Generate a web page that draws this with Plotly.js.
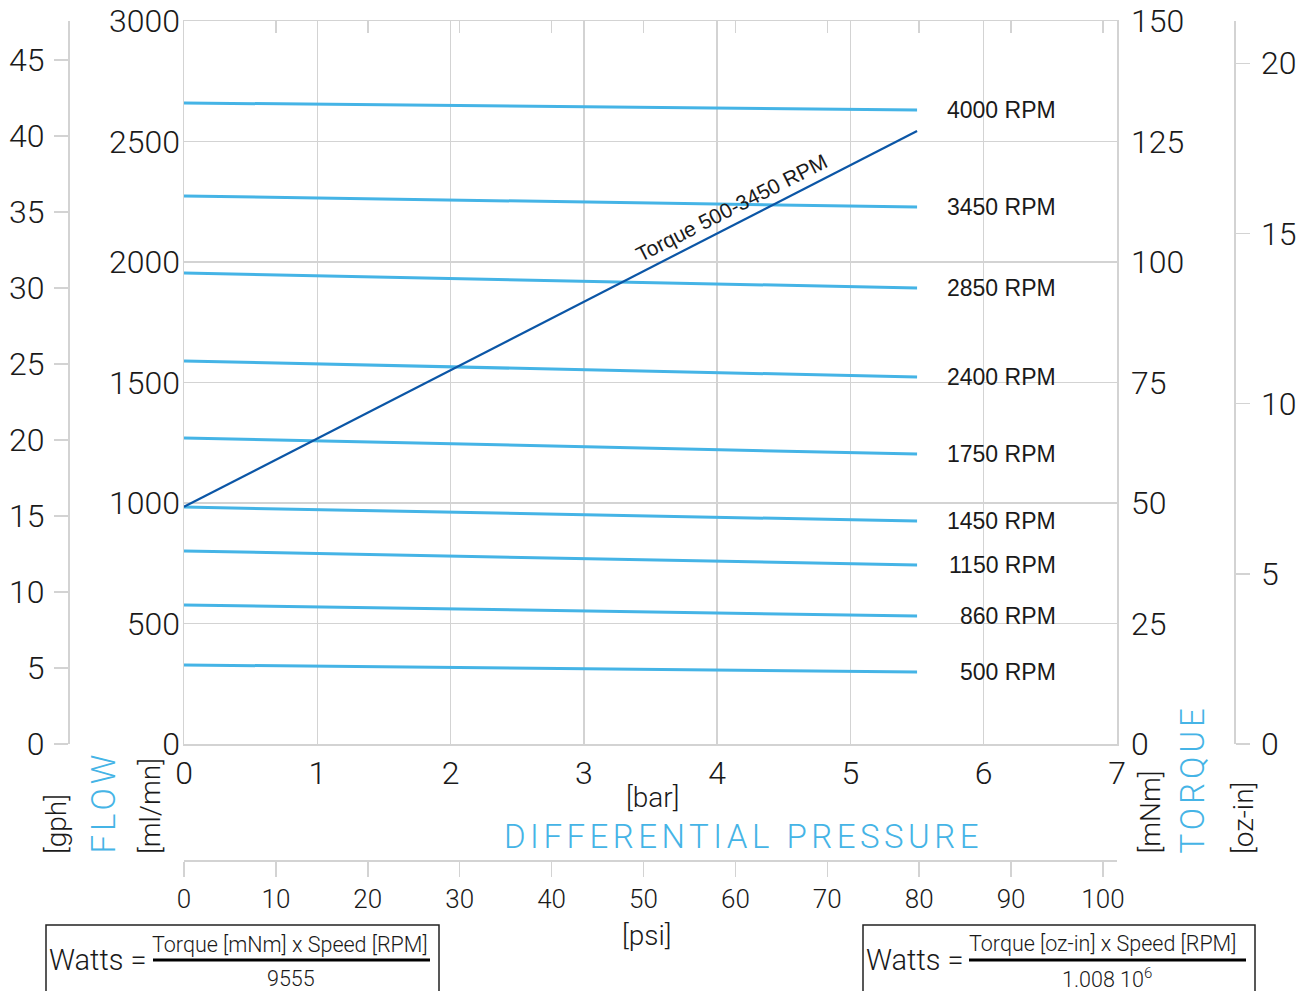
<!DOCTYPE html>
<html>
<head>
<meta charset="utf-8">
<script src="https://cdn.plot.ly/plotly-3.0.1.min.js"></script>
<style>html,body{margin:0;padding:0;background:#fff;}</style>
</head>
<body>
<div id="chart" style="width:1309px;height:991px;"></div>
<script>
// ---- data ----
const pressureBar = [0, 5.5];
const rpmLabels = ['4000 RPM', '3450 RPM', '2850 RPM', '2400 RPM', '1750 RPM', '1450 RPM', '1150 RPM', '860 RPM', '500 RPM'];
const flowStart = [2660, 2274, 1954, 1589, 1270, 983, 801, 577, 328];
const flowEnd   = [2631, 2228, 1892, 1523, 1203, 925, 743, 531, 299];
const torqueBar = [0, 5.5];
const torqueMNm = [49.2, 127.2];
const torqueLabel = 'Torque 500-3450 RPM';

// ---- helpers (figure pixels -> paper) ----
const W = 1309, H = 991;
const px = v => v / W;
const py = v => 1 - v / H;

const LB = '#45b4e6';
const DB = '#0b56a6';
const GRID = '#d3d3d3';
const TXT = '#1a1a1a';
const TF = {family: 'Roboto, Inter, sans-serif', size: 32, color: TXT, weight: 300};

const traces = [];
rpmLabels.forEach((name, i) => {
  traces.push({
    x: pressureBar, y: [flowStart[i], flowEnd[i]], xaxis: 'x', yaxis: 'y',
    mode: 'lines', line: {color: LB, width: 3}, name: name,
    hoverinfo: 'skip', showlegend: false
  });
});
traces.push({
  x: torqueBar, y: torqueMNm, xaxis: 'x', yaxis: 'y3',
  mode: 'lines', line: {color: DB, width: 2.2}, name: torqueLabel,
  hoverinfo: 'skip', showlegend: false
});
// carriers for secondary scales
traces.push({x: [], y: [], xaxis: 'x', yaxis: 'y2', showlegend: false, hoverinfo: 'skip'});
traces.push({x: [], y: [], xaxis: 'x', yaxis: 'y4', showlegend: false, hoverinfo: 'skip'});
traces.push({x: [], y: [], xaxis: 'x2', yaxis: 'y', showlegend: false, hoverinfo: 'skip'});
traces.push({x: [], y: [], xaxis: 'x3', yaxis: 'y', showlegend: false, hoverinfo: 'skip'});

const xDom = [px(184), px(1117)];
const yDom = [py(744), py(21)];
const BAR_MAX = 7;
const PSI_MAX = 7 * 14.5038;
const ML_MAX = 3000;
const GPH_MAX = ML_MAX * 60 / 3785.41;
const MNM_MAX = 150;
const OZIN_MAX = MNM_MAX * 0.141612;

const annotations = [];
rpmLabels.forEach((name, i) => {
  annotations.push({
    xref: 'x', yref: 'y', x: 6.56, y: flowEnd[i], xanchor: 'right', yanchor: 'middle',
    text: name, showarrow: false,
    font: {family: 'Liberation Sans, Arial, sans-serif', size: 23, color: TXT}
  });
});
annotations.push({
  xref: 'x', yref: 'y3', x: 4.11, y: torqueMNm[0] + (torqueMNm[1] - torqueMNm[0]) * 4.11 / 5.5,
  yshift: 18, text: torqueLabel, textangle: -27, showarrow: false,
  font: {family: 'Liberation Sans, Arial, sans-serif', size: 21, color: TXT}
});
function pann(text, x, y, opts) {
  annotations.push(Object.assign({xref: 'paper', yref: 'paper', x: px(x), y: py(y), text: text,
    showarrow: false, font: {family: 'Roboto, sans-serif', size: 30, color: TXT, weight: 300}}, opts || {}));
}
const UF = {family: 'Roboto, sans-serif', size: 28, color: TXT, weight: 300};
const BF = {family: 'Roboto, sans-serif', size: 33, color: LB, weight: 300};
// axis titles
pann('[bar]', 652, 797, {xanchor: 'center', yanchor: 'middle', font: UF});
pann('<span style="letter-spacing:4.5px">DIFFERENTIAL PRESSURE</span>', 743, 836, {xanchor: 'center', yanchor: 'middle', font: BF});
pann('[psi]', 646, 935, {xanchor: 'center', yanchor: 'middle', font: UF});
pann('[gph]', 56, 856, {xanchor: 'center', yanchor: 'bottom', textangle: -90, font: UF});
pann('<span style="letter-spacing:4px">FLOW</span>', 103, 856, {xanchor: 'center', yanchor: 'bottom', textangle: -90, font: BF});
pann('[ml/mn]', 150, 856, {xanchor: 'center', yanchor: 'bottom', textangle: -90, font: UF});
pann('[mNm]', 1150, 856, {xanchor: 'center', yanchor: 'bottom', textangle: -90, font: UF});
pann('<span style="letter-spacing:4px">TORQUE</span>', 1192, 856, {xanchor: 'center', yanchor: 'bottom', textangle: -90, font: BF});
pann('[oz-in]', 1243, 856, {xanchor: 'center', yanchor: 'bottom', textangle: -90, font: UF});
// formulas
const FF = {family: 'Roboto, sans-serif', size: 21.5, color: TXT, weight: 300};
const WF = {family: 'Roboto, sans-serif', size: 29, color: TXT, weight: 300};
pann('Watts =', 47, 960, {xanchor: 'left', yanchor: 'middle', font: WF});
pann('Torque [mNm] x Speed [RPM]', 290, 944, {xanchor: 'center', yanchor: 'middle', font: FF});
pann('9555', 291, 978, {xanchor: 'center', yanchor: 'middle', font: FF});
pann('Watts =', 864, 960, {xanchor: 'left', yanchor: 'middle', font: WF});
pann('Torque [oz-in] x Speed [RPM]', 1102, 943, {xanchor: 'center', yanchor: 'middle', font: FF});
pann('1.008 10<sup>6</sup>', 1107, 978, {xanchor: 'center', yanchor: 'middle', font: FF});

const shapes = [
  {type: 'rect', xref: 'paper', yref: 'paper', x0: px(46), x1: px(439), y0: py(925), y1: py(1000), line: {color: '#222', width: 1.5}},
  {type: 'line', xref: 'paper', yref: 'paper', x0: px(153), x1: px(430), y0: py(960), y1: py(960), line: {color: '#000', width: 3}},
  {type: 'rect', xref: 'paper', yref: 'paper', x0: px(863), x1: px(1255), y0: py(925), y1: py(1000), line: {color: '#222', width: 1.5}},
  {type: 'line', xref: 'paper', yref: 'paper', x0: px(969), x1: px(1246), y0: py(960), y1: py(960), line: {color: '#000', width: 3}}
];

const layout = {
  width: W, height: H, autosize: false,
  margin: {l: 0, r: 0, t: 0, b: 0, pad: 0},
  paper_bgcolor: '#fff', plot_bgcolor: '#fff',
  showlegend: false,
  xaxis: {domain: xDom, range: [0, BAR_MAX], dtick: 1, tick0: 0, showgrid: true, gridcolor: GRID, gridwidth: 1.5,
    zeroline: false, showline: true, mirror: true, linecolor: GRID, linewidth: 1.5, ticks: '',
    tickfont: TF, ticklabelstandoff: 0, anchor: 'y', fixedrange: true},
  xaxis2: {domain: xDom, range: [0, PSI_MAX], dtick: 10, tick0: 0, overlaying: 'x', anchor: 'free', position: py(860),
    side: 'bottom', showgrid: false, zeroline: false, showline: true, linecolor: GRID, linewidth: 1.5,
    ticks: 'outside', ticklen: 15, tickwidth: 1.5, tickcolor: GRID,
    tickfont: {family: 'Roboto, sans-serif', size: 26, color: TXT, weight: 300}, fixedrange: true},
  xaxis3: {domain: xDom, range: [0, PSI_MAX], dtick: 10, tick0: 10, overlaying: 'x', anchor: 'y', side: 'top',
    showgrid: false, zeroline: false, showline: false, ticks: 'inside', ticklen: 12, tickwidth: 1.5, tickcolor: GRID,
    showticklabels: false, fixedrange: true},
  yaxis: {domain: yDom, range: [0, ML_MAX], dtick: 500, tick0: 0, showgrid: true, gridcolor: GRID, gridwidth: 1.5,
    zeroline: false, showline: true, mirror: true, linecolor: GRID, linewidth: 1.5, ticks: '',
    tickfont: TF, ticklabelstandoff: -4, anchor: 'x', fixedrange: true},
  yaxis2: {domain: yDom, range: [0, GPH_MAX], dtick: 5, tick0: 0, overlaying: 'y', anchor: 'free', position: px(68),
    side: 'left', showgrid: false, zeroline: false, showline: true, linecolor: GRID, linewidth: 1.5,
    ticks: 'outside', ticklen: 14, tickwidth: 1.5, tickcolor: GRID, tickfont: TF, ticklabelstandoff: 3, fixedrange: true},
  yaxis3: {domain: yDom, range: [0, MNM_MAX], dtick: 25, tick0: 0, overlaying: 'y', anchor: 'x', side: 'right',
    showgrid: false, zeroline: false, showline: false, ticks: '', tickfont: TF, ticklabelstandoff: 13, fixedrange: true},
  yaxis4: {domain: yDom, range: [0, OZIN_MAX], dtick: 5, tick0: 0, overlaying: 'y', anchor: 'free', position: px(1234),
    side: 'right', showgrid: false, zeroline: false, showline: true, linecolor: GRID, linewidth: 1.5,
    ticks: 'outside', ticklen: 14, tickwidth: 1.5, tickcolor: GRID, tickfont: TF, ticklabelstandoff: 5, fixedrange: true},
  annotations: annotations,
  shapes: shapes
};

Plotly.newPlot('chart', traces, layout, {displayModeBar: false, staticPlot: true});
</script>
</body>
</html>
